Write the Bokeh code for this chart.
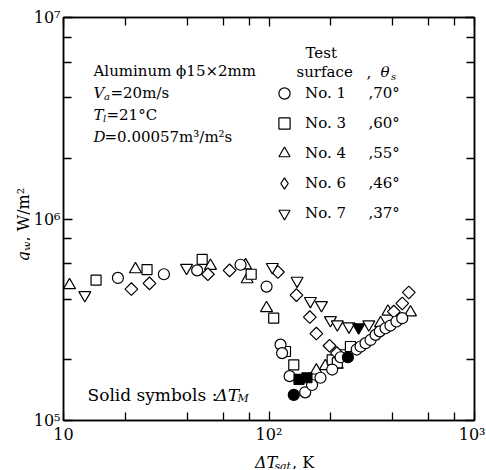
import math
from bokeh.plotting import figure
from bokeh.layouts import row, column
from bokeh.models import FixedTicker, LogAxis, Label, Legend, LegendItem, Range1d
from bokeh.embed import file_html
from bokeh.resources import INLINE

# ---------------- data ----------------
x_major = [10, 100, 1000]
x_minor = [20, 40, 60, 80, 200, 400, 600, 800]
y_major = [1e5, 1e6, 1e7]
y_minor = [2e5, 4e5, 6e5, 8e5, 2e6, 4e6, 6e6, 8e6]
x_tick_labels = ["10", "10²", "10³"]
y_tick_labels = ["10⁵", "10⁶", "10⁷"]

# No.1 (70 deg) circles
no1_x = [18.4, 30.8, 44.7, 72.7, 97.3, 113.8, 115.8, 126, 150, 162, 178, 203, 223,
         267, 279, 295, 312, 330, 346, 369, 390, 417, 445]
no1_y = [5.1e5, 5.32e5, 5.56e5, 5.93e5, 4.62e5, 2.38e5, 2.16e5, 1.66e5, 1.38e5, 1.5e5,
         1.63e5, 1.79e5, 2.06e5, 2.25e5, 2.33e5, 2.42e5, 2.51e5, 2.66e5, 2.77e5, 2.87e5,
         2.96e5, 3.1e5, 3.22e5]
no1_m_x = [132, 242]
no1_m_y = [1.34e5, 2.06e5]

# No.3 (60 deg) squares
no3_x = [14.4, 25.5, 47.3, 81.9, 105.4, 120.3, 132, 203, 215, 223, 249]
no3_y = [4.97e5, 5.61e5, 6.3e5, 5.32e5, 3.22e5, 2.2e5, 1.89e5, 2.0e5, 1.93e5, 2.12e5, 2.33e5]
no3_m_x = [140, 153]
no3_m_y = [1.6e5, 1.63e5]

# No.4 (55 deg) triangles
no4_x = [10.7, 22.4, 51.9, 76.9, 78.3, 97.3, 170, 188, 215, 349, 379, 488]
no4_y = [4.69e5, 5.63e5, 5.85e5, 5.89e5, 5.02e5, 3.61e5, 1.77e5, 1.86e5, 1.89e5,
         3.04e5, 3.47e5, 3.44e5]

# No.6 (46 deg) diamonds
no6_x = [21.4, 26.2, 50.4, 64.3, 110.5, 136, 158, 170, 197, 214, 405, 445, 479]
no6_y = [4.49e5, 4.79e5, 5.32e5, 5.56e5, 5.46e5, 4.19e5, 3.26e5, 2.7e5, 2.35e5, 2.16e5,
         3.47e5, 3.81e5, 4.32e5]

# No.7 (37 deg) inverted triangles
no7_x = [12.7, 39.7, 103.8, 137, 159, 180, 199, 215, 245, 306]
no7_y = [4.19e5, 5.72e5, 5.78e5, 4.94e5, 3.92e5, 3.74e5, 3.15e5, 3.0e5, 2.93e5, 3.0e5]
no7_m_x = [273]
no7_m_y = [2.9e5]

legend_names = ["No. 1", "No. 3", "No. 4", "No. 6", "No. 7"]
legend_angles = ["70°", "60°", "55°", "46°", "37°"]

# ---------------- layout ----------------
SERIF = "DejaVu Serif"
FS = 15
W, H = 485, 469
YT_W = 30                 # strip holding the y-axis title
MAIN_H = 446
XT_H = H - MAIN_H         # strip holding the x-axis title
PL, PT, FW, FH = 63, 17, 411, 406   # frame position in the picture (px)

p = figure(width=W - YT_W, height=MAIN_H,
           min_border_left=PL - YT_W, min_border_top=PT,
           min_border_right=W - PL - FW, min_border_bottom=MAIN_H - PT - FH,
           x_axis_type="log", y_axis_type="log",
           x_range=Range1d(10, 1000), y_range=Range1d(1e5, 1e7),
           output_backend="svg", toolbar_location=None)
p.title.visible = False
p.background_fill_color = "white"
p.border_fill_color = "white"
p.outline_line_color = "black"
p.outline_line_width = 1.5
p.xgrid.visible = False
p.ygrid.visible = False

xt = FixedTicker(ticks=x_major, minor_ticks=x_minor)
yt = FixedTicker(ticks=y_major, minor_ticks=y_minor)


def style_axis(ax, show_labels, standoff):
    ax.axis_line_color = "black"
    ax.axis_line_width = 1.5
    ax.major_tick_in = 9
    ax.major_tick_out = 0
    ax.minor_tick_in = 8
    ax.minor_tick_out = 0
    ax.major_tick_line_color = "black"
    ax.minor_tick_line_color = "black"
    ax.major_tick_line_width = 1.3
    ax.minor_tick_line_width = 1.3
    ax.major_label_text_font = SERIF
    ax.major_label_text_color = "black"
    if show_labels:
        ax.major_label_text_font_size = "16px"
        ax.major_label_standoff = standoff
    else:
        ax.major_label_text_font_size = "1px"
        ax.major_label_text_alpha = 0
        ax.major_label_standoff = 0


xa = p.xaxis[0]
xa.ticker = xt
xa.major_label_overrides = {v: s for v, s in zip(x_major, x_tick_labels)}
style_axis(xa, True, 4)
ya = p.yaxis[0]
ya.ticker = yt
ya.major_label_overrides = {v: s for v, s in zip(y_major, y_tick_labels)}
style_axis(ya, True, 3)

top = LogAxis(ticker=xt)
style_axis(top, False, 0)
p.add_layout(top, "above")
right = LogAxis(ticker=yt)
style_axis(right, False, 0)
p.add_layout(right, "right")

# ---------------- markers ----------------
LW = 1.2
r4 = p.scatter(no4_x, no4_y, marker="triangle", size=12, fill_color="white",
               line_color="black", line_width=LW)
r3 = p.scatter(no3_x, no3_y, marker="square", size=10, fill_color="white",
               line_color="black", line_width=LW)
# small diamonds hidden beneath the rotated squares; they provide the legend glyph
r6_leg = p.scatter(no6_x, no6_y, marker="diamond", size=5, fill_color="white",
                   line_color="black", line_width=LW)
r6 = p.scatter(no6_x, no6_y, marker="square", angle=math.pi / 4, size=9, fill_color="white",
               line_color="black", line_width=LW)
r7 = p.scatter(no7_x, no7_y, marker="inverted_triangle", size=12, fill_color="white",
               line_color="black", line_width=LW)
r1 = p.scatter(no1_x, no1_y, marker="circle", size=11, fill_color="white",
               line_color="black", line_width=LW)
p.scatter(no3_m_x, no3_m_y, marker="square", size=10, fill_color="black",
          line_color="black", line_width=LW)
p.scatter(no1_m_x, no1_m_y, marker="circle", size=11, fill_color="black",
          line_color="black", line_width=LW)
p.scatter(no7_m_x, no7_m_y, marker="inverted_triangle", size=12, fill_color="black",
          line_color="black", line_width=LW)

gap = "\u2002\u2002\u2002"
items = [LegendItem(label=f"{n}{gap},{a}", renderers=[r])
         for n, a, r in zip(legend_names, legend_angles, [r1, r3, r4, r6_leg, r7])]
legend = Legend(items=items, location=(284 - 14 - PL, (PT + FH) - (96 - 14 + 5 * 28 + 4 * 2)),
                glyph_width=28, glyph_height=28, label_height=28, spacing=2,
                padding=0, margin=0, label_standoff=7,
                background_fill_alpha=0, border_line_alpha=0,
                label_text_font=SERIF, label_text_font_size=f"{FS}px",
                label_text_color="black")
p.add_layout(legend)


# ---------------- texts inside the frame ----------------
def to_data(px, py):
    x = 10 ** (1 + (px - PL) / FW * 2)
    y = 10 ** (5 + (PT + FH - py) / FH * 2)
    return x, y


def make_label(x, y, text, size=FS, style="normal", angle=0.0):
    return Label(x=x, y=y, text=text, text_font=SERIF,
                 text_font_size=f"{size}px", text_font_style=style,
                 angle=angle, text_align="left", text_baseline="alphabetic",
                 text_color="black")


def put(px, py, text, size=FS, style="normal"):
    x, y = to_data(px, py)
    p.add_layout(make_label(x, y, text, size, style))


SUB = 10
put(93, 71, "Aluminum ϕ15×2mm")
put(93, 93, "V", style="italic")
put(103.5, 97, "a", size=SUB, style="italic")
put(110, 93, "=20m/s")
put(93, 115, "T", style="italic")
put(102.5, 119, "l", size=SUB, style="italic")
put(106, 115, "=21°C")
put(93, 137, "D", style="italic")
put(104, 137, "=0.00057m³/m²s")

put(305, 53, "Test")
put(296, 72, "surface")
put(366, 72, ",")
put(380, 72, "θ", style="italic")
put(390.5, 76, "s", size=SUB, style="italic")

put(87, 397, "Solid symbols :", size=17)
put(215, 397, "ΔT", style="italic", size=17)
put(237, 401, "M", size=11, style="italic")


# ---------------- axis-title strips (page pixel coordinates) ----------------
def strip(width, height, x0, y0):
    f = figure(width=width, height=height, min_border=0,
               x_range=Range1d(x0, x0 + width), y_range=Range1d(y0 + height, y0),
               x_axis_location=None, y_axis_location=None,
               output_backend="svg", toolbar_location=None)
    f.title.visible = False
    f.outline_line_color = None
    f.background_fill_color = "white"
    f.border_fill_color = "white"
    f.xgrid.visible = False
    f.ygrid.visible = False
    return f


TS = 16
yfig = strip(YT_W, H, 0, 0)
R = math.pi / 2
yfig.add_layout(make_label(23, 261, "q", size=TS, style="italic", angle=R))
yfig.add_layout(make_label(26.5, 250.5, "w", size=11, style="italic", angle=R))
yfig.add_layout(make_label(23, 241, ", W/m²", size=TS, angle=R))

xfig = strip(W - YT_W, XT_H, YT_W, MAIN_H)
xfig.add_layout(make_label(242, 462, "ΔT", size=TS, style="italic"))
xfig.add_layout(make_label(263.5, 465.5, "sat", size=11, style="italic"))
xfig.add_layout(make_label(283, 462, ", K", size=TS))

layout = row(yfig, column(p, xfig, spacing=0), spacing=0)

open("out.html", "w").write(file_html(layout, INLINE))
